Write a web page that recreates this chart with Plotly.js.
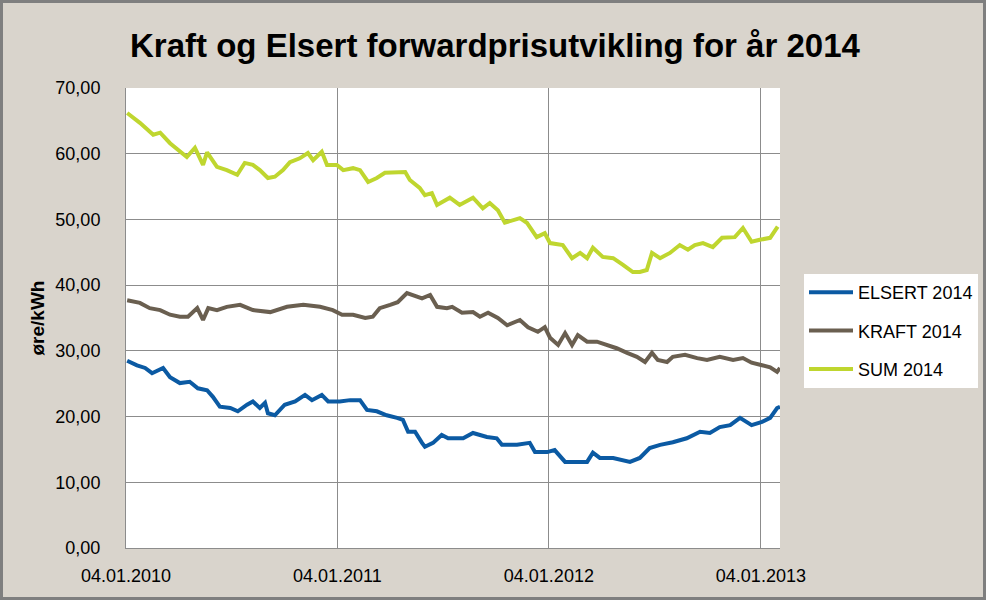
<!DOCTYPE html>
<html>
<head>
<meta charset="utf-8">
<script src="https://cdn.plot.ly/plotly-3.0.1.min.js"></script>
<style>
  html, body { margin: 0; padding: 0; background: #D9D4CC; }
  #chart { width: 986px; height: 600px; }
</style>
</head>
<body>
<div id="chart"></div>
<script>
// Days since 04.01.2010 and values (øre/kWh)
const seriesNames = ['ELSERT 2014', 'KRAFT 2014', 'SUM 2014'];

const elsertDays = [2,19,33,45,64,76,93,110,124,140,150,162,180,193,209,219,231,240,245,257,274,292,309,321,338,349,369,387,404,416,433,450,468,478,487,499,511,516,530,545,556,564,582,599,623,640,649,675,697,706,727,740,758,772,796,806,818,841,870,887,904,922,944,968,991,1008,1025,1043,1060,1080,1098,1112,1124,1129];
const elsertValues = [28.5,27.8,27.4,26.6,27.4,26.0,25.1,25.3,24.3,24.0,23.0,21.5,21.3,20.8,21.8,22.3,21.3,22.1,20.5,20.2,21.8,22.3,23.3,22.5,23.3,22.3,22.3,22.5,22.5,21.0,20.8,20.2,19.8,19.5,17.7,17.7,16.0,15.4,16.0,17.2,16.7,16.7,16.7,17.5,16.9,16.7,15.7,15.7,16.0,14.6,14.6,14.9,13.1,13.1,13.1,14.5,13.7,13.7,13.1,13.7,15.2,15.7,16.1,16.7,17.7,17.5,18.4,18.7,19.8,18.7,19.2,19.8,21.3,21.5];

const kraftDays = [2,24,41,59,76,93,107,123,133,142,157,174,197,219,249,278,306,335,357,373,392,413,426,438,456,469,485,495,511,525,537,554,563,580,599,611,625,642,658,680,694,711,723,732,746,758,770,780,796,813,830,847,865,882,896,908,918,934,944,965,986,1003,1025,1048,1065,1080,1098,1112,1124,1129];
const kraftValues = [37.7,37.3,36.5,36.2,35.5,35.2,35.2,36.5,34.7,36.5,36.2,36.7,37.0,36.2,35.9,36.7,37.0,36.7,36.2,35.5,35.5,35.0,35.2,36.5,37.0,37.4,38.8,38.5,38.0,38.5,36.7,36.5,36.7,35.8,35.9,35.2,35.8,35.0,33.9,34.7,33.6,32.9,33.6,32.0,30.9,32.7,30.9,32.4,31.4,31.4,30.9,30.4,29.7,29.1,28.3,29.7,28.6,28.3,29.1,29.4,28.9,28.6,29.1,28.6,28.9,28.2,27.8,27.5,26.8,27.4];

const sumDays = [2,24,47,59,76,90,105,119,133,140,157,174,192,205,219,231,245,257,271,283,300,314,323,338,347,364,375,392,404,418,433,447,468,482,490,507,516,528,537,551,559,576,599,616,628,642,654,680,692,709,723,732,754,770,784,796,806,823,841,858,875,887,899,908,922,939,956,970,982,996,1013,1029,1051,1065,1080,1094,1112,1125];
const sumValues = [66.2,64.7,62.9,63.2,61.6,60.6,59.5,60.9,58.3,60.2,58.0,57.5,56.8,58.6,58.3,57.5,56.3,56.5,57.5,58.7,59.3,60.1,59.0,60.3,58.3,58.3,57.5,57.8,57.5,55.7,56.3,57.1,57.1,57.2,56.0,54.8,53.7,54.0,52.2,53.0,53.3,52.2,53.3,51.7,52.5,51.4,49.5,50.2,49.5,47.3,47.9,46.4,46.1,44.1,44.9,44.1,45.7,44.3,44.1,43.1,42.0,42.0,42.3,44.9,44.1,44.9,46.1,45.4,46.1,46.4,45.8,47.2,47.3,48.7,46.6,46.9,47.2,48.9];

const xTickDates = ['2010-01-04', '2011-01-04', '2012-01-04', '2013-01-04'];
const yTicks = [0, 10, 20, 30, 40, 50, 60, 70];

const seriesColors = ['#0B5AA3', '#6A5F50', '#BFD62F'];

function dayToDate(d) {
  const t = Date.UTC(2010, 0, 4) + d * 86400000;
  return new Date(t).toISOString().slice(0, 10);
}

const allDays = [elsertDays, kraftDays, sumDays];
const allValues = [elsertValues, kraftValues, sumValues];

const FONT = '"Liberation Sans", Arial, sans-serif';

const traces = seriesNames.map((name, i) => ({
  type: 'scatter',
  mode: 'lines',
  name: name,
  legendgroup: 'g' + i,
  x: allDays[i].map(dayToDate),
  y: allValues[i],
  line: { color: seriesColors[i], width: 4 },
  hoverinfo: 'x+y+name'
}));

// plot area: x 126..780, y 88..548
const L = 126, R = 206, T = 88, B = 52, W = 986, H = 600;
const pw = W - L - R, ph = H - T - B;

const layout = {
  width: W,
  height: H,
  margin: { l: L, r: R, t: T, b: B, pad: 0, autoexpand: false },
  paper_bgcolor: '#D9D4CC',
  plot_bgcolor: '#FFFFFF',
  separators: ', ',
  title: {
    text: '<b>Kraft og Elsert forwardprisutvikling for år 2014</b>',
    font: { family: FONT, size: 33, color: '#000000' },
    x: 0.502, xanchor: 'center',
    y: 1 - 45 / H, yanchor: 'middle'
  },
  xaxis: {
    type: 'date',
    range: ['2010-01-04', '2013-02-06'],
    tickmode: 'array',
    tickvals: xTickDates,
    tickformat: '%d.%m.%Y',
    showgrid: true,
    gridcolor: '#8C8C8C',
    gridwidth: 1,
    showline: true,
    linecolor: '#8C8C8C',
    linewidth: 1,
    ticks: '',
    ticklabelstandoff: 11,
    tickfont: { family: FONT, size: 18, color: '#000000' },
    zeroline: false,
    fixedrange: true
  },
  yaxis: {
    range: [0, 70],
    tickmode: 'array',
    tickvals: yTicks,
    tickformat: '.2f',
    showgrid: true,
    gridcolor: '#8C8C8C',
    gridwidth: 1,
    showline: true,
    linecolor: '#8C8C8C',
    linewidth: 1,
    ticks: '',
    ticklabelstandoff: 21,
    tickfont: { family: FONT, size: 18, color: '#000000' },
    zeroline: false,
    title: {
      text: '<b>øre/kWh</b>',
      font: { family: FONT, size: 19, color: '#000000' },
      standoff: 5
    },
    fixedrange: true
  },
  showlegend: true,
  legend: {
    x: (804 - L) / pw,
    y: (H - B - 274) / ph,
    xanchor: 'left',
    yanchor: 'top',
    bgcolor: '#FFFFFF',
    borderwidth: 0,
    font: { family: FONT, size: 18, color: '#000000' },
    traceorder: 'grouped',
    tracegroupgap: 12,
    itemwidth: 44
  },
  shapes: [{
    type: 'rect', xref: 'paper', yref: 'paper', layer: 'above',
    x0: -(L - 1.5) / pw, x1: (W - L - 1.5) / pw,
    y0: -(B - 1.5) / ph, y1: (H - B - 1.5) / ph,
    line: { color: '#7F7F7F', width: 3 }
  }]
};

Plotly.newPlot('chart', traces, layout, { displayModeBar: false, staticPlot: true });
</script>
</body>
</html>
